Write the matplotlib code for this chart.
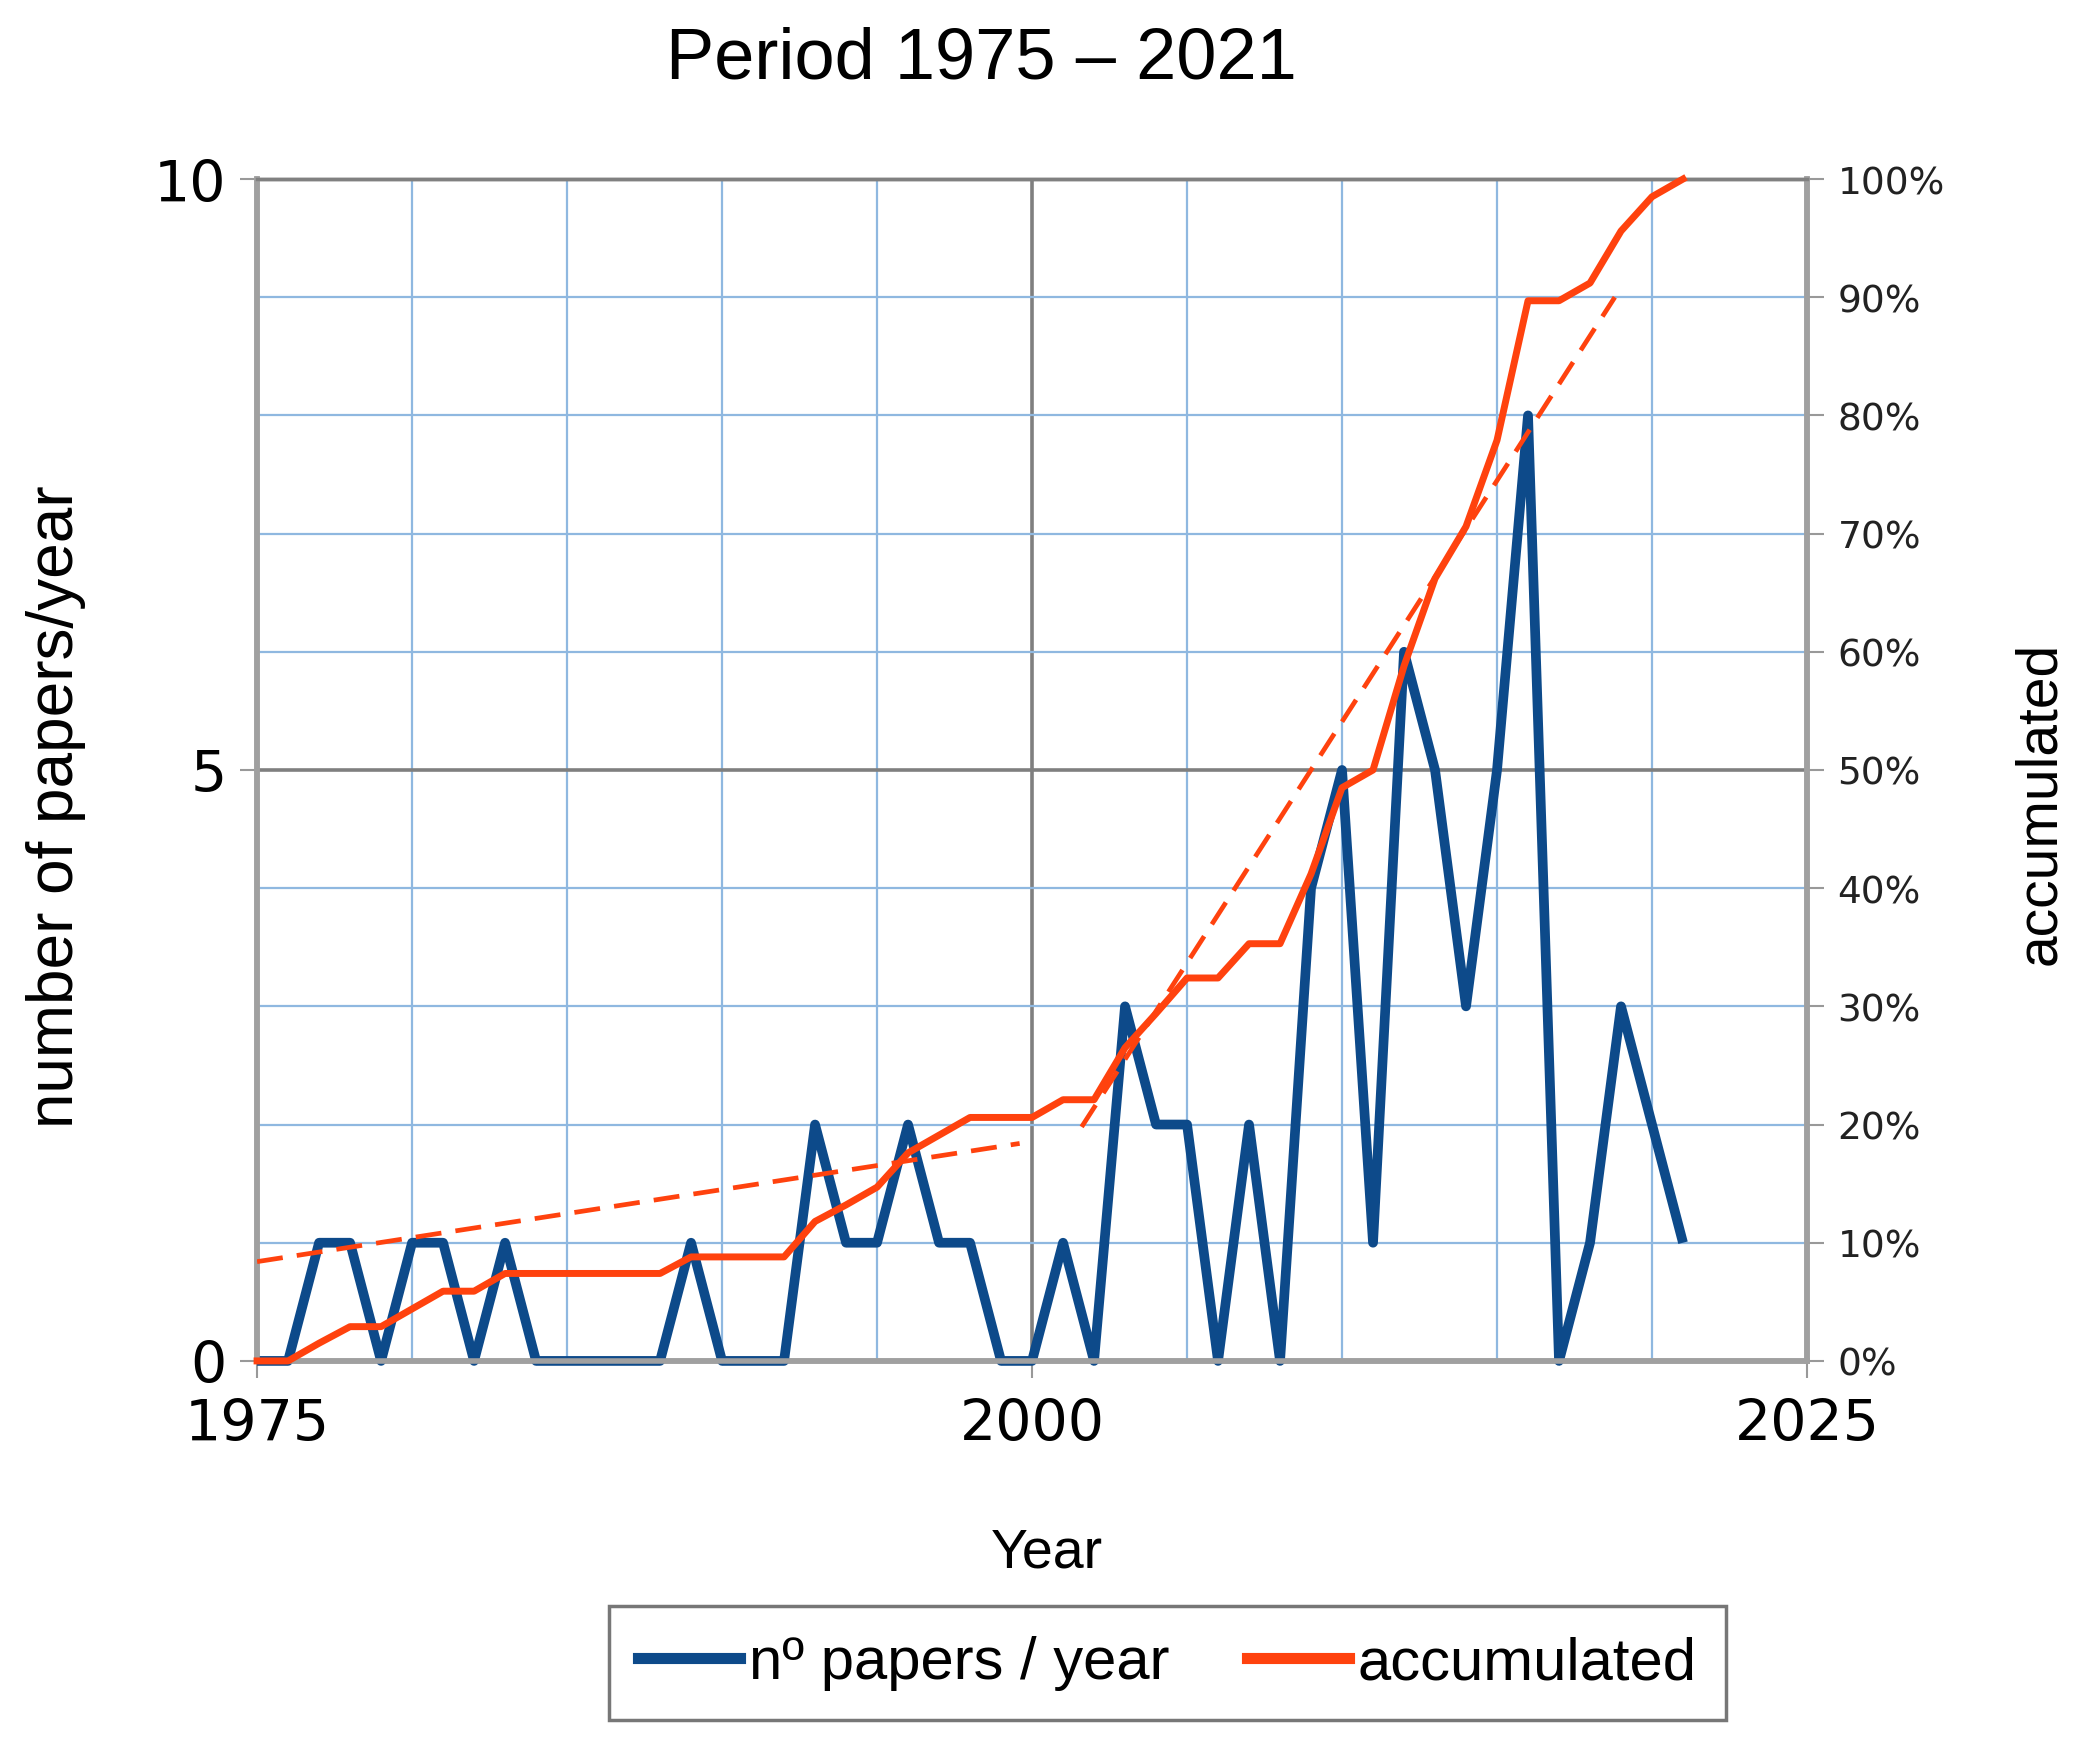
import matplotlib
matplotlib.use("Agg")
import matplotlib.pyplot as plt
from matplotlib.ticker import MultipleLocator, FixedLocator
from matplotlib.lines import Line2D

# ---------------- data ----------------
years = list(range(1975, 2022))
papers_per_year = [0, 0, 1, 1, 0, 1, 1, 0, 1, 0,
                   0, 0, 0, 0, 1, 0, 0, 0,
                   2, 1, 1, 2, 1, 1, 0, 0, 1, 0,
                   3, 2, 2, 0, 2, 0,
                   4, 5, 1, 6, 5, 3, 5, 8, 0, 1, 3, 2, 1]
accumulated_pct = [0, 0, 1.5, 2.9, 2.9, 4.4, 5.9, 5.9, 7.4, 7.4,
                   7.4, 7.4, 7.4, 7.4, 8.8, 8.8, 8.8, 8.8,
                   11.8, 13.2, 14.7, 17.6, 19.1, 20.6, 20.6, 20.6, 22.1, 22.1,
                   26.5, 29.4, 32.4, 32.4, 35.3, 35.3,
                   41.2, 48.5, 50.0, 58.8, 66.2, 70.6, 77.9, 89.7, 89.7, 91.2,
                   95.6, 98.5, 100.0]
trend1_x = [1975, 1999.6]
trend1_y = [8.4, 18.4]
trend2_x = [2001.6, 2018.8]
trend2_y = [19.8, 90.0]

title = "Period 1975 \u2013 2021"
x_ticks = [1975, 2000, 2025]
left_ticks = [0, 5, 10]
right_ticks = list(range(0, 101, 10))
right_tick_labels = [f"{v}%" for v in right_ticks]

BLUE = "#0d4a8a"
ORANGE = "#ff420e"

# ---------------- figure ----------------
fig = plt.figure(figsize=(20.9, 17.58), dpi=100)
ax = fig.add_axes([0.123, 0.2253, 0.8646 - 0.123, 0.8976 - 0.2253])
ax2 = ax.twinx()

TXT = ["Liberation Sans", "DejaVu Sans"]
NUM = ["DejaVu Sans"]

ax.set_xlim(1975, 2025)
ax.set_ylim(0, 10)
ax2.set_ylim(0, 100)

# grid
ax.xaxis.set_major_locator(FixedLocator(x_ticks))
ax.xaxis.set_minor_locator(MultipleLocator(5))
ax.yaxis.set_major_locator(FixedLocator(left_ticks))
ax.yaxis.set_minor_locator(MultipleLocator(1))
ax.grid(which="minor", color="#8fb8e0", lw=1.6, zorder=0)
ax.grid(which="major", color="#7f7f7f", lw=2.6, zorder=0)
ax.set_axisbelow(True)

ax.tick_params(which="minor", length=0)
ax.tick_params(which="major", length=12, width=1.5, color="#999999",
               labelsize=41)
ax.tick_params(axis="x", pad=14)
ax.tick_params(axis="y", pad=10)
ax.set_xticklabels([str(v) for v in x_ticks], family=NUM, fontsize=41)
ax.set_yticklabels([str(v) for v in left_ticks], family=NUM, fontsize=41)

ax2.yaxis.set_major_locator(FixedLocator(right_ticks))
ax2.set_yticklabels(right_tick_labels, family=NUM, fontsize=27, color="#222222")
ax2.tick_params(axis="y", length=12, width=1.5, color="#999999", pad=10)

for a in (ax, ax2):
    for s in a.spines.values():
        s.set_color("#a0a0a0")
        s.set_linewidth(4)
    a.spines["top"].set_color("#808080")
    a.spines["top"].set_linewidth(2.5)

# lines
ax.plot(years, papers_per_year, color=BLUE, lw=7, zorder=4,
        solid_joinstyle="round", solid_capstyle="butt", clip_on=False)
ax2.plot(years, accumulated_pct, color=ORANGE, lw=5, zorder=3, clip_on=False,
         solid_joinstyle="round")
ax2.plot(trend1_x, trend1_y, color=ORANGE, lw=3.4, ls=(0, (5.5, 3)), zorder=3)
ax2.plot(trend2_x, trend2_y, color=ORANGE, lw=3.4, ls=(0, (5.5, 3)), zorder=3)

# text
fig.text(0.4695, 0.966, title, ha="center", va="center", fontsize=52, family=TXT)
fig.text(0.027, 0.541, "number of papers/year", rotation=90, ha="center",
         va="center", fontsize=46, family=TXT)
fig.text(0.976, 0.543, "accumulated", rotation=90, ha="center", va="center",
         fontsize=41, family=TXT)
fig.text(0.501, 0.1166, "Year", ha="center", va="center", fontsize=40, family=TXT)

handles = [Line2D([], [], color=BLUE, lw=8), Line2D([], [], color=ORANGE, lw=8)]
leg = fig.legend(handles, ["n\u00ba papers / year", "accumulated"],
                 loc="center", bbox_to_anchor=(0.5586, 0.0535), ncol=2,
                 frameon=True, fancybox=False, prop={"family": TXT, "size": 43},
                 handlelength=1.7, handletextpad=0.15, columnspacing=1.3,
                 borderpad=0.5, borderaxespad=0)
leg.get_frame().set_edgecolor("#555555")
leg.get_frame().set_linewidth(2.5)

fig.savefig("out.png", dpi=100, facecolor="white")
